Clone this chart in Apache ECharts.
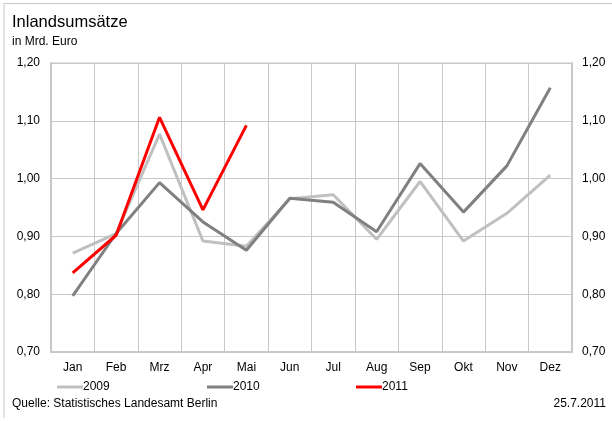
<!DOCTYPE html>
<html><head><meta charset="utf-8">
<script src="https://cdn.jsdelivr.net/npm/echarts@6/dist/echarts.min.js"></script>
<style>html,body{margin:0;padding:0;background:#fff}#c{width:612px;height:421px}</style>
</head><body><div id="c"></div>
<script>
const months = ['Jan','Feb','Mrz','Apr','Mai','Jun','Jul','Aug','Sep','Okt','Nov','Dez'];
const s2009 = [0.871, 0.905, 1.077, 0.892, 0.883, 0.965, 0.972, 0.895, 0.995, 0.892, 0.940, 1.006];
const s2010 = [0.797, 0.905, 0.993, 0.925, 0.876, 0.966, 0.959, 0.908, 1.026, 0.942, 1.022, 1.157];
const s2011 = [0.837, 0.902, 1.106, 0.946, 1.092];
const yMin = 0.7, yMax = 1.2, yStep = 0.1;
const colors = {'2009':'#c0c0c0','2010':'#808080','2011':'#ff0000'};
const font = 'Liberation Sans, Arial, sans-serif';
const fmt = v => v.toFixed(2).replace('.', ',');

const chart = echarts.init(document.getElementById('c'), null, {renderer:'canvas'});
const legendBase = (name, left) => ({
  data:[name], left:left, top:376, icon:'rect', itemWidth:26, itemHeight:3,
  textStyle:{fontFamily:font, fontSize:12, color:'#000', padding:[0,0,0,-5]}
});
chart.setOption({
  animation:false,
  graphic:[
    {type:'text', left:12, top:14, style:{text:'Inlandsumsätze', font:'16.5px '+font, fill:'#000'}},
    {type:'text', left:12, top:36, style:{text:'in Mrd. Euro', font:'12px '+font, fill:'#000'}},
    {type:'text', left:12, top:398, style:{text:'Quelle: Statistisches Landesamt Berlin', font:'12px '+font, fill:'#000'}},
    {type:'text', right:6, top:398, style:{text:'25.7.2011', font:'12px '+font, fill:'#000'}},
    {type:'line', shape:{x1:4, y1:3.5, x2:612, y2:3.5}, style:{stroke:'#c8c8c8', lineWidth:1}},
    {type:'line', shape:{x1:4, y1:3, x2:4, y2:418}, style:{stroke:'#c8c8c8', lineWidth:1}}
  ],
  legend:[legendBase('2009',52), legendBase('2010',202), legendBase('2011',351)],
  grid:{left:51, right:40, top:63, bottom:69, show:true, borderColor:'#c8c8c8', borderWidth:1},
  xAxis:{type:'category', data:months, boundaryGap:true,
    axisLine:{show:true, lineStyle:{color:'#c8c8c8', width:2}},
    axisTick:{show:false},
    splitLine:{show:true, lineStyle:{color:'#c8c8c8', width:1}},
    axisLabel:{fontFamily:font, fontSize:12, color:'#000', margin:10}},
  yAxis:[
    {type:'value', min:yMin, max:yMax, interval:yStep, position:'left',
      axisLine:{show:true, lineStyle:{color:'#c8c8c8', width:2}}, axisTick:{show:false},
      splitLine:{show:true, lineStyle:{color:'#c8c8c8', width:1}},
      axisLabel:{formatter:fmt, fontFamily:font, fontSize:12, color:'#000', margin:11}},
    {type:'value', min:yMin, max:yMax, interval:yStep, position:'right',
      axisLine:{show:true, lineStyle:{color:'#c8c8c8', width:2}}, axisTick:{show:false},
      splitLine:{show:false},
      axisLabel:{formatter:fmt, fontFamily:font, fontSize:12, color:'#000', margin:10}}
  ],
  series:[
    {name:'2009', type:'line', data:s2009, symbol:'none', color:colors['2009'], lineStyle:{width:3, color:colors['2009']}},
    {name:'2010', type:'line', data:s2010, symbol:'none', color:colors['2010'], lineStyle:{width:3, color:colors['2010']}},
    {name:'2011', type:'line', data:s2011, symbol:'none', color:colors['2011'], lineStyle:{width:3, color:colors['2011']}}
  ]
});
</script></body></html>
